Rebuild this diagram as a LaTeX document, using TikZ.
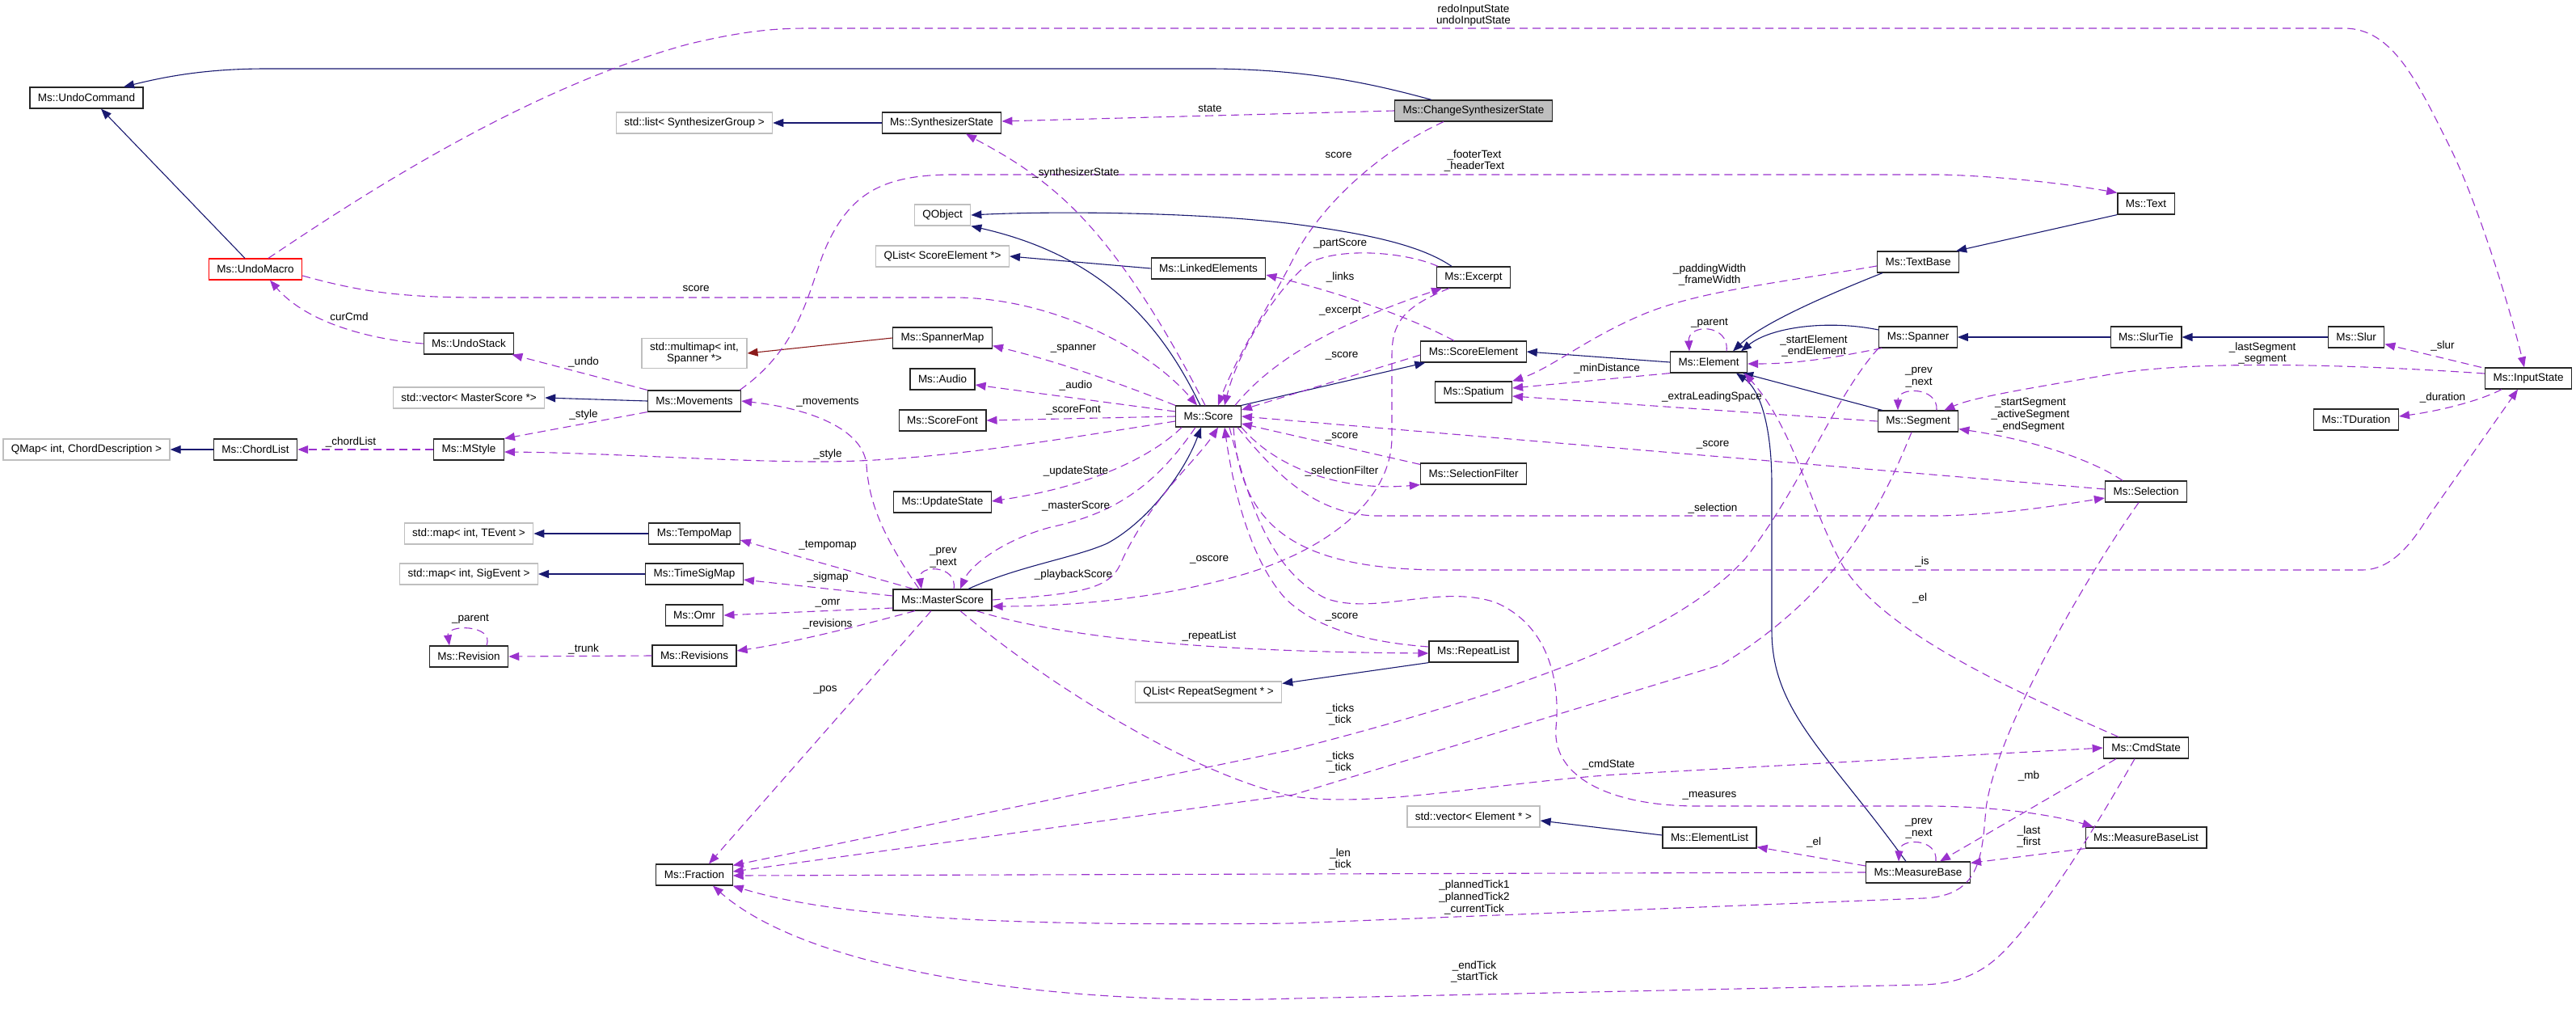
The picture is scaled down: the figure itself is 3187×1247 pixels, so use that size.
\documentclass[tikz,border=0pt]{standalone}
\usepackage{fontspec}
\setmainfont{Liberation Sans}
\usetikzlibrary{arrows.meta}

\definecolor{inhblue}{HTML}{191970}
\definecolor{usepurple}{HTML}{9A32CD}
\definecolor{tplred}{HTML}{8B1A1A}
\definecolor{boxgray}{HTML}{BFBFBF}

\begin{document}
\begin{tikzpicture}[
    x=1pt, y=-1pt,
    >={Triangle[length=13pt,width=10pt]},
    font=\fontsize{13.5}{14.7}\selectfont,
    cls/.style={draw=black!85, line width=1.2pt, fill=white, minimum height=26pt, inner xsep=10pt, inner ysep=2pt}, % class box
    ext/.style={cls, draw=boxgray},                 % external class, grey frame
    subj/.style={cls, fill=boxgray},                % documented class
    lbl/.style={inner sep=0pt, align=center},       % edge label
    inh/.style={draw=inhblue, line width=1.1pt, ->},
    tpl/.style={draw=tplred, line width=1.1pt, ->},
    use/.style={draw=usepurple, line width=1.1pt, ->, dash pattern=on 10pt off 6pt}
]
\useasboundingbox (0,0) rectangle (3187,1247);

% ---- classes ----
\node[cls] (UndoCommand) at (107,121) {Ms::UndoCommand};
\node[cls, draw=red] (UndoMacro) at (316,333) {Ms::UndoMacro};
\node[ext] (SynthList) at (859,152) {std::list< SynthesizerGroup >};
\node[cls] (SynthState) at (1165,152) {Ms::SynthesizerState};
\node[subj] (ChangeSynth) at (1823,137) {Ms::ChangeSynthesizerState};
\node[ext] (QObj) at (1166,266) {QObject};
\node[ext] (QListSE) at (1166,317) {QList< ScoreElement *>};
\node[cls] (LinkedEl) at (1495,332) {Ms::LinkedElements};
\node[cls] (Excerpt) at (1823,343) {Ms::Excerpt};
\node[cls] (TextBase) at (2373,324) {Ms::TextBase};
\node[cls] (Text) at (2655,252) {Ms::Text};
\node[cls] (Spanner) at (2373,417) {Ms::Spanner};
\node[cls] (SlurTie) at (2655,417) {Ms::SlurTie};
\node[cls] (Slur) at (2915,417) {Ms::Slur};
\node[cls] (InputState) at (3128,468) {Ms::InputState};
\node[cls] (TDuration) at (2915,519) {Ms::TDuration};
\node[cls] (Segment) at (2373,521) {Ms::Segment};
\node[cls] (Element) at (2114,448) {Ms::Element};
\node[cls] (ScoreElement) at (1823,435) {Ms::ScoreElement};
\node[cls] (Spatium) at (1823,485) {Ms::Spatium};
\node[cls] (SelFilter) at (1823,586) {Ms::SelectionFilter};
\node[cls] (Selection) at (2655,608) {Ms::Selection};
\node[cls] (RepeatList) at (1823,806) {Ms::RepeatList};
\node[ext] (QListRS) at (1495,856) {QList< RepeatSegment * >};
\node[cls] (Score) at (1495,515) {Ms::Score};
\node[cls] (SpannerMap) at (1166,418) {Ms::SpannerMap};
\node[ext, align=center, inner ysep=5pt] (Multimap) at (859,437) {std::multimap< int,\\ Spanner *>};
\node[cls] (Audio) at (1166,469) {Ms::Audio};
\node[cls] (ScoreFont) at (1166,520) {Ms::ScoreFont};
\node[cls] (UpdateState) at (1166,621) {Ms::UpdateState};
\node[cls] (MasterScore) at (1166,742) {Ms::MasterScore};
\node[cls] (Movements) at (859,496) {Ms::Movements};
\node[cls] (TempoMap) at (859,660) {Ms::TempoMap};
\node[cls] (TimeSigMap) at (859,710) {Ms::TimeSigMap};
\node[cls] (Omr) at (859,761) {Ms::Omr};
\node[cls] (Revisions) at (859,811) {Ms::Revisions};
\node[cls] (UndoStack) at (580,425) {Ms::UndoStack};
\node[ext] (VecMS) at (580,492) {std::vector< MasterScore *>};
\node[cls] (MStyle) at (580,556) {Ms::MStyle};
\node[cls] (ChordList) at (316,556) {Ms::ChordList};
\node[ext] (QMap) at (107,556) {QMap< int, ChordDescription >};
\node[ext] (MapTEvent) at (580,660) {std::map< int, TEvent >};
\node[ext] (MapSigEvent) at (580,710) {std::map< int, SigEvent >};
\node[cls] (Revision) at (580,812) {Ms::Revision};
\node[cls] (Fraction) at (859,1082) {Ms::Fraction};
\node[ext] (VecEl) at (1823,1010) {std::vector< Element * >};
\node[cls] (ElementList) at (2115,1036) {Ms::ElementList};
\node[cls] (MeasureBase) at (2373,1079) {Ms::MeasureBase};
\node[cls] (CmdState) at (2655,925) {Ms::CmdState};
\node[cls] (MBList) at (2655,1036) {Ms::MeasureBaseList};

% ---- inheritance ----
\draw[inh] ([xshift=46]ChangeSynth.north west) .. controls (1700,104) and (1620,86) .. (1500,85) -- (330,85) .. controls (250,85) and (200,96) .. ([xshift=46]UndoCommand.north);
\draw[inh] ([xshift=-13]UndoMacro.north) -- ([xshift=18]UndoCommand.south);
\draw[inh] (SynthState.west) -- (SynthList.east);
\draw[inh] ([xshift=-27]Excerpt.north) .. controls (1760,305) and (1700,290) .. (1600,277) .. controls (1480,262) and (1300,261) .. (QObj.east);
\draw[inh] ([xshift=-10]Score.north) .. controls (1445,420) and (1380,320) .. (QObj.south east);
\draw[inh] (LinkedEl.west) -- (QListSE.east);
\draw[inh] (Score.north east) -- ([xshift=6]ScoreElement.south west);
\draw[inh] (Element.west) -- (ScoreElement.east);
\draw[inh] ([xshift=-44]TextBase.south) .. controls (2260,365) and (2180,400) .. ([xshift=30]Element.north);
\draw[inh] ([yshift=9]Spanner.west) .. controls (2260,395) and (2190,405) .. ([xshift=40]Element.north);
\draw[inh] ([xshift=6]Segment.north west) -- ([xshift=-6]Element.south east);
\draw[inh] ([xshift=-15]MeasureBase.north) .. controls (2260,930) and (2192,880) .. (2192,780) -- (2192,600) .. controls (2192,520) and (2175,480) .. ([xshift=34]Element.south);
\draw[inh] (Text.south west) -- ([xshift=-4]TextBase.north east);
\draw[inh] (SlurTie.west) -- (Spanner.east);
\draw[inh] (Slur.west) -- (SlurTie.east);
\draw[inh] ([xshift=32]MasterScore.north) .. controls (1260,700) and (1330,690) .. (1370,672) .. controls (1420,645) and (1465,585) .. ([xshift=-9]Score.south);
\draw[inh] (TempoMap.west) -- (MapTEvent.east);
\draw[inh] (TimeSigMap.west) -- (MapSigEvent.east);
\draw[inh] (ChordList.west) -- (QMap.east);
\draw[inh] (Movements.west) -- (VecMS.east);
\draw[inh] (RepeatList.south west) -- ([yshift=-3]QListRS.north east);
\draw[inh] ([yshift=3]ElementList.west) -- ([yshift=-5]VecEl.east);
\draw[tpl] (SpannerMap.west) -- (Multimap.east);

% ---- undo side ----
\draw[use] (ChangeSynth.west) -- ([yshift=2]SynthState.east);
\node[lbl] (lState) at (1497,134) {state};
\draw[use] ([xshift=-37]ChangeSynth.south) .. controls (1700,190) and (1630,260) .. (1600,320) .. controls (1575,370) and (1530,440) .. ([xshift=12]Score.north);
\node[lbl] (lScoreCS) at (1656,192) {score};
\draw[use] ([xshift=16]UndoMacro.north) .. controls (450,240) and (650,110) .. (850,55) .. controls (920,38) and (960,35) .. (1000,35) -- (2900,35) .. controls (2960,35) and (2990,100) .. (3030,180) .. controls (3070,260) and (3110,400) .. ([xshift=-5]InputState.north);
\node[lbl] (lInState) at (1823,19) {redoInputState\\undoInputState};
\draw[use] ([yshift=-8]UndoMacro.east) .. controls (450,362) and (500,368) .. (600,368) -- (1180,368) .. controls (1300,368) and (1420,430) .. ([xshift=-14]Score.north);
\node[lbl] (lScoreUM) at (861,357) {score};
\draw[use] (UndoStack.west) .. controls (460,420) and (380,400) .. ([xshift=18]UndoMacro.south);
\node[lbl] (lCurCmd) at (432,392) {curCmd};

% ---- Movements, MStyle ----
\draw[use] (Movements.north west) -- ([xshift=-3]UndoStack.south east);
\node[lbl] (lUndo) at (722,448) {\_undo};
\draw[use] (Movements.south west) -- (MStyle.north east);
\node[lbl] (lStyleMv) at (722,513) {\_style};
\draw[use] (MStyle.west) -- (ChordList.east);
\node[lbl] (lChordList) at (434,547) {\_chordList};
\draw[use] ([yshift=-6]Score.west) .. controls (1300,545) and (1150,571) .. (1014,571) .. controls (900,571) and (750,560) .. ([yshift=-3]MStyle.east);
\node[lbl] (lStyleSc) at (1024,562) {\_style};
\draw[use] ([xshift=-2]Movements.north east) .. controls (990,430) and (1000,360) .. (1020,310) .. controls (1050,240) and (1090,216) .. (1180,216) -- (2400,216) .. controls (2480,218) and (2560,228) .. (Text.north west);
\node[lbl] (lHeader) at (1824,199) {\_footerText\\\_headerText};

% ---- Score members on the left ----
\draw[use] (Score.north west) .. controls (1400,480) and (1320,450) .. ([yshift=4]SpannerMap.south east);
\node[lbl] (lSpanner) at (1328,431) {\_spanner};
\draw[use] ([yshift=6]Score.west) -- ([yshift=-7]Audio.east);
\node[lbl] (lAudio) at (1331,477) {\_audio};
\draw[use] (Score.west) -- (ScoreFont.east);
\node[lbl] (lScoreFont) at (1328,507) {\_scoreFont};
\draw[use] ([xshift=8]Score.south west) .. controls (1430,560) and (1360,600) .. ([yshift=1]UpdateState.east);
\node[lbl] (lUpdate) at (1331,583) {\_updateState};
\draw[use] ([xshift=-16]Score.south) .. controls (1430,600) and (1380,635) .. (1300,652) .. controls (1240,668) and (1200,700) .. ([xshift=22]MasterScore.north);
\node[lbl] (lMaster) at (1331,626) {\_masterScore};
\draw[use] (MasterScore.east) .. controls (1330,735) and (1370,730) .. (1385,700) .. controls (1420,620) and (1480,570) .. ([xshift=12]Score.south);
\node[lbl] (lPlayback) at (1328,711) {\_playbackScore};
\draw[use] ([xshift=-4]Score.north) .. controls (1460,440) and (1400,330) .. (1330,260) .. controls (1280,210) and (1230,185) .. ([xshift=30]SynthState.south);
\node[lbl] (lSynth) at (1331,214) {\_synthesizerState};

% ---- MasterScore members ----
\draw[use] ([xshift=14]MasterScore.north) .. controls (1185,698) and (1135,698) .. ([xshift=-26]MasterScore.north);
\node[lbl] (lPrevMS) at (1167,690) {\_prev\\\_next};
\draw[use] ([xshift=-29]MasterScore.north) .. controls (1090,660) and (1075,620) .. (1072,575) .. controls (1068,530) and (1000,505) .. (Movements.east);
\node[lbl] (lMovements) at (1024,497) {\_movements};
\draw[use] ([xshift=-36]MasterScore.north) -- ([yshift=-8]TempoMap.east);
\node[lbl] (lTempo) at (1024,675) {\_tempomap};
\draw[use] ([yshift=5]MasterScore.west) -- ([yshift=-7]TimeSigMap.east);
\node[lbl] (lSigmap) at (1024,714) {\_sigmap};
\draw[use] ([yshift=-10]MasterScore.west) -- (Omr.east);
\node[lbl] (lOmr) at (1024,746) {\_omr};
\draw[use] ([xshift=-34]MasterScore.south) .. controls (1060,775) and (980,795) .. ([yshift=6]Revisions.east);
\node[lbl] (lRevisions) at (1024,772) {\_revisions};
\draw[use] (Revisions.west) -- (Revision.east);
\node[lbl] (lTrunk) at (722,803) {\_trunk};
\draw[use] ([xshift=22]Revision.north) .. controls (612,772) and (552,772) .. ([xshift=-24]Revision.north);
\node[lbl] (lParentRev) at (582,766) {\_parent};
\draw[use] ([xshift=-14]MasterScore.south) -- ([xshift=18]Fraction.north);
\node[lbl] (lPos) at (1021,853) {\_pos};
\draw[use] ([xshift=42]MasterScore.south) .. controls (1320,790) and (1500,806) .. ([yshift=-2]RepeatList.west);
\node[lbl] (lRepeat) at (1496,787) {\_repeatList};
\draw[use] ([xshift=22]MasterScore.south) .. controls (1300,850) and (1480,960) .. (1600,985) .. controls (1700,1000) and (1850,968) .. (2000,958) -- (CmdState.west);
\node[lbl] (lCmdState) at (1990,946) {\_cmdState};

% ---- Score members on the right ----
\draw[use] ([yshift=-4]ScoreElement.west) -- ([yshift=8]Score.east);
\node[lbl] (lScoreSE) at (1660,440) {\_score};
\draw[use] ([xshift=-24]ScoreElement.north) .. controls (1740,390) and (1650,360) .. ([yshift=-8]LinkedEl.east);
\node[lbl] (lLinks) at (1658,343) {\_links};
\draw[use] ([xshift=-44]Excerpt.north) .. controls (1740,312) and (1660,305) .. (1620,325) .. controls (1575,360) and (1530,440) .. ([xshift=20]Score.north);
\node[lbl] (lPartScore) at (1658,301) {\_partScore};
\draw[use] ([xshift=-8]Score.north east) .. controls (1570,450) and (1640,405) .. ([xshift=-39]Excerpt.south);
\node[lbl] (lExcerpt) at (1658,385) {\_excerpt};
\draw[use] ([xshift=-30]Excerpt.south) .. controls (1735,380) and (1722,400) .. (1722,440) -- (1722,540) .. controls (1722,620) and (1640,680) .. (1540,710) .. controls (1420,745) and (1300,750) .. ([yshift=-8]MasterScore.east);
\node[lbl] (lOscore) at (1496,692) {\_oscore};
\draw[use] ([yshift=-2]SelFilter.north west) -- ([yshift=-9]Score.east);
\node[lbl] (lScoreSF) at (1660,540) {\_score};
\draw[use] (Score.south east) .. controls (1580,580) and (1660,608) .. (SelFilter.south west);
\node[lbl] (lSelFilter) at (1660,583) {\_selectionFilter};
\draw[use] ([xshift=-5]Score.south east) .. controls (1570,575) and (1620,636) .. (1702,638) -- (2400,638) .. controls (2480,636) and (2540,626) .. ([yshift=-8]Selection.west);
\node[lbl] (lSelection) at (2119,629) {\_selection};
\draw[use] ([yshift=3]Selection.west) -- (Score.east);
\node[lbl] (lScoreSel) at (2119,550) {\_score};
\draw[use] ([xshift=-10]Score.south east) .. controls (1535,650) and (1600,703) .. (1779,705) -- (2922,705) .. controls (2960,705) and (2985,670) .. (3005,638) -- ([xshift=-13]InputState.south);
\node[lbl] (lIs) at (2378,695) {\_is};
\draw[use] ([xshift=-15]Score.south east) .. controls (1545,620) and (1570,705) .. (1640,740) .. controls (1700,762) and (1780,722) .. (1850,745) .. controls (1920,775) and (1930,850) .. (1925,900) .. controls (1920,960) and (1990,997) .. (2100,997) -- (2380,997) .. controls (2470,997) and (2540,1008) .. ([xshift=10]MBList.north west);
\node[lbl] (lMeasures) at (2115,984) {\_measures};
\draw[use] ([yshift=6]RepeatList.west) .. controls (1700,795) and (1630,780) .. (1590,740) .. controls (1545,690) and (1525,600) .. ([xshift=20]Score.south);
\node[lbl] (lScoreRL) at (1660,763) {\_score};

% ---- Element, Segment, Spatium ----
\draw[use] (Element.south west) -- ([yshift=5]Spatium.east);
\node[lbl] (lMinDist) at (1988,456) {\_minDistance};
\draw[use] ([yshift=-5]TextBase.west) .. controls (2200,350) and (2100,360) .. (2030,390) .. controls (1960,420) and (1920,455) .. (Spatium.north east);
\node[lbl] (lPadding) at (2115,340) {\_paddingWidth\\\_frameWidth};
\draw[use] (Segment.west) -- ([yshift=-5]Spatium.east);
\node[lbl] (lExtra) at (2118,491) {\_extraLeadingSpace};
\draw[use] ([xshift=4]Spanner.south west) .. controls (2280,440) and (2230,450) .. ([yshift=-2]Element.east);
\node[lbl] (lStartEl) at (2244,428) {\_startElement\\\_endElement};
\draw[use] ([xshift=22]Element.north) .. controls (2140,400) and (2088,400) .. ([xshift=-24]Element.north);
\node[lbl] (lParentEl) at (2115,400) {\_parent};
\draw[use] ([xshift=23]Segment.north) .. controls (2398,478) and (2348,478) .. ([xshift=-25]Segment.north);
\node[lbl] (lPrevSeg) at (2374,467) {\_prev\\\_next};

% ---- InputState, Selection ----
\draw[use] ([yshift=6]InputState.west) .. controls (2900,450) and (2700,445) .. (2600,465) .. controls (2500,482) and (2440,492) .. ([xshift=-18]Segment.north east);
\node[lbl] (lLastSeg) at (2799,437) {\_lastSegment\\\_segment};
\draw[use] ([xshift=-4]InputState.north west) -- ([yshift=5]Slur.south east);
\node[lbl] (lSlur) at (3022,428) {\_slur};
\draw[use] ([xshift=-33]InputState.south) .. controls (3070,495) and (3020,508) .. ([yshift=4]TDuration.east);
\node[lbl] (lDuration) at (3022,492) {\_duration};
\draw[use] ([xshift=-29]Selection.north) .. controls (2590,570) and (2520,545) .. ([yshift=4]Segment.south east);
\node[lbl] (lStartSeg) at (2512,513) {\_startSegment\\\_activeSegment\\\_endSegment};

% ---- CmdState, MeasureBase ----
\draw[use] ([xshift=-34]CmdState.north) .. controls (2480,850) and (2330,780) .. (2280,700) .. controls (2240,630) and (2220,530) .. ([xshift=-4]Element.south east);
\node[lbl] (lElCmd) at (2375,740) {\_el};
\draw[use] ([xshift=-37]CmdState.south) -- ([xshift=-38]MeasureBase.north east);
\node[lbl] (lMb) at (2510,960) {\_mb};
\draw[use] (MBList.south west) -- ([yshift=-2]MeasureBase.north east);
\node[lbl] (lLast) at (2510,1035) {\_last\\\_first};
\draw[use] ([xshift=22]MeasureBase.north) .. controls (2398,1036) and (2350,1036) .. ([xshift=-24]MeasureBase.north);
\node[lbl] (lPrevMB) at (2374,1025) {\_prev\\\_next};
\draw[use] ([yshift=8]MeasureBase.west) -- ([yshift=2]ElementList.south east);
\node[lbl] (lElMB) at (2244,1042) {\_el};

% ---- Fraction ----
\draw[use] (Spanner.south west) .. controls (2270,490) and (2230,600) .. (2160,690) .. controls (2080,780) and (1900,850) .. (1600,927) -- ([yshift=-2]Fraction.north east);
\node[lbl] (lTicksSp) at (1658,884) {\_ticks\\\_tick};
\draw[use] ([xshift=-8]Segment.south) .. controls (2330,620) and (2280,730) .. (2130,822) -- (1600,983) -- ([yshift=4]Fraction.east);
\node[lbl] (lTicksSeg) at (1658,943) {\_ticks\\\_tick};
\draw[use] (MeasureBase.west) -- ([yshift=-1]Fraction.east);
\node[lbl] (lLen) at (1658,1063) {\_len\\\_tick};
\draw[use] ([xshift=-9]Selection.south) .. controls (2590,700) and (2470,900) .. (2457,1000) .. controls (2452,1060) and (2450,1108) .. (2380,1111) -- (1600,1142) .. controls (1300,1145) and (1050,1140) .. (Fraction.south east);
\node[lbl] (lPlanned) at (1824,1110) {\_plannedTick1\\\_plannedTick2\\\_currentTick};
\draw[use] ([xshift=-14]CmdState.south) .. controls (2600,1010) and (2540,1110) .. (2490,1165) .. controls (2460,1200) and (2430,1216) .. (2380,1218) -- (1600,1235) .. controls (1300,1245) and (1000,1200) .. ([xshift=23]Fraction.south);
\node[lbl] (lEndTick) at (1824,1202) {\_endTick\\\_startTick};

\end{tikzpicture}
\end{document}
